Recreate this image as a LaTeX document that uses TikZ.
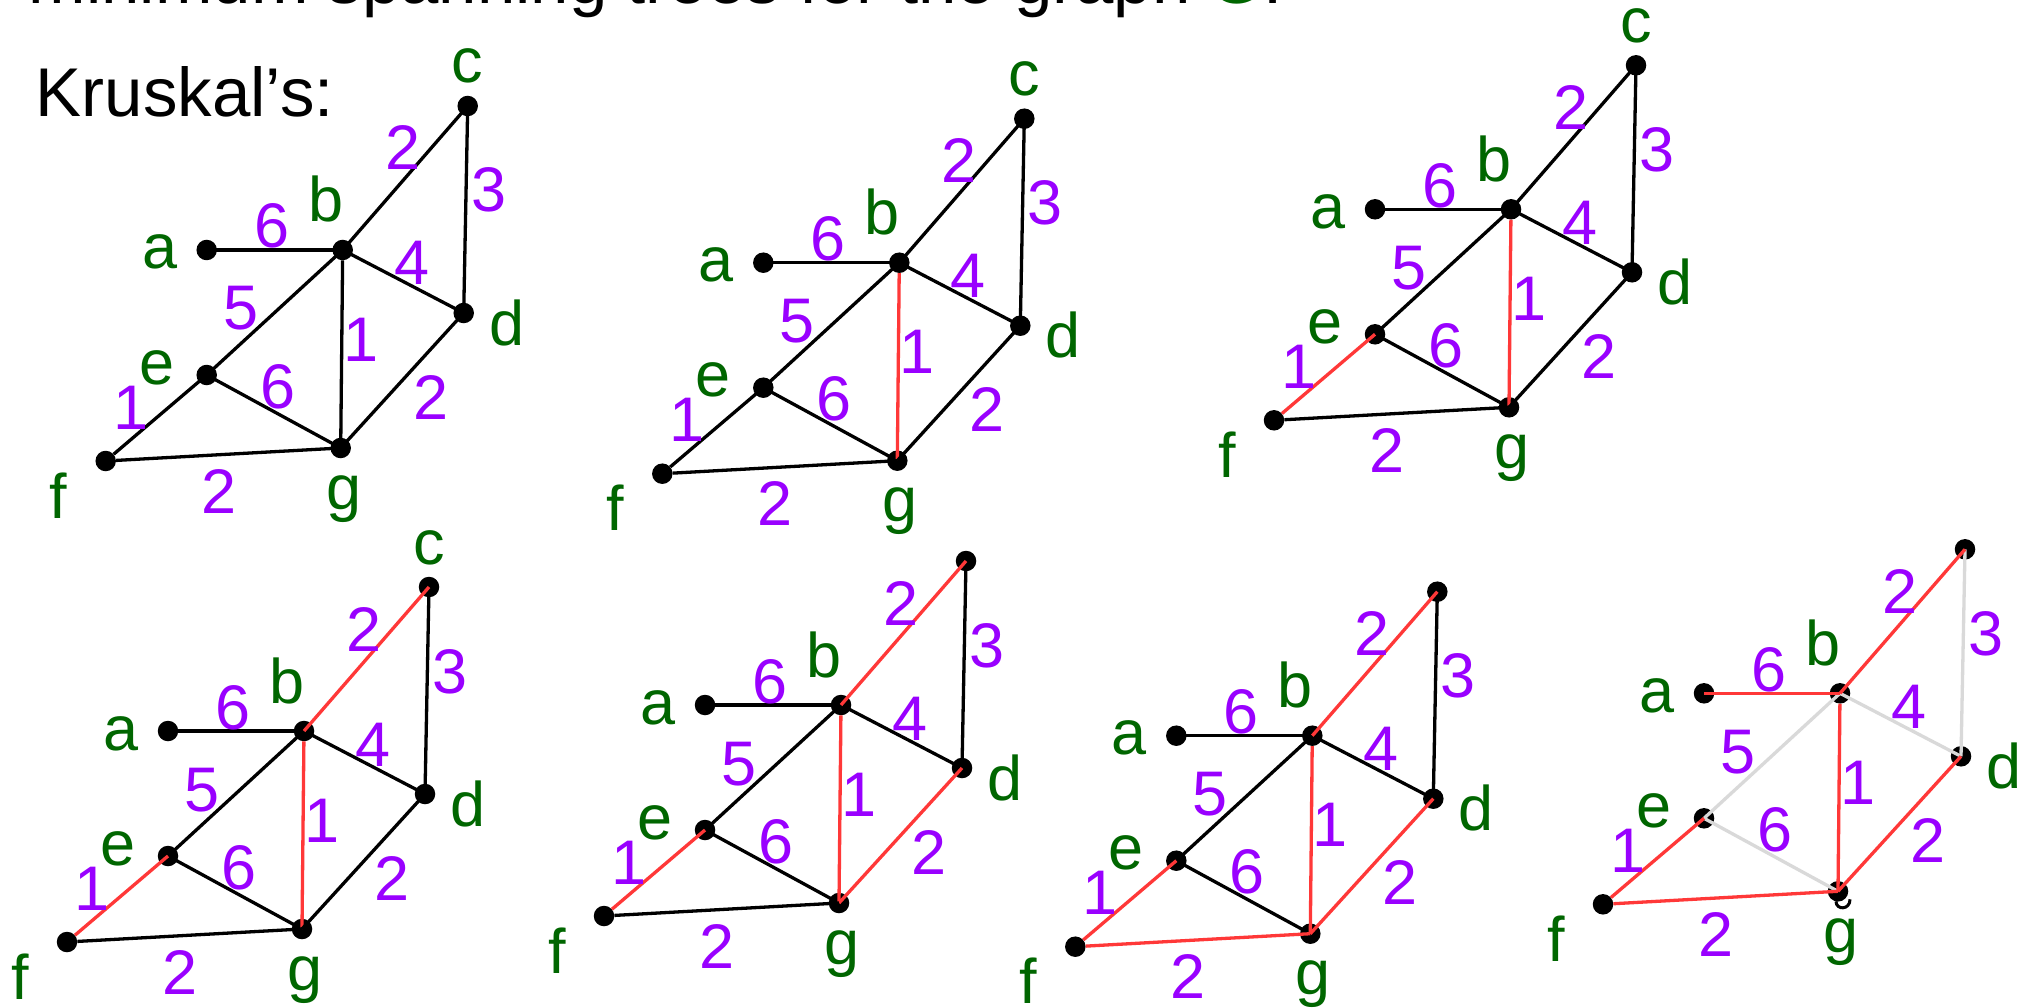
\documentclass[tikz,border=0pt]{standalone}
\usepackage{fontspec}
\setmainfont{Liberation Sans}
\usetikzlibrary{calc}
\definecolor{lblgreen}{RGB}{0,102,0}
\definecolor{wpurple}{RGB}{153,0,255}
\definecolor{tred}{RGB}{255,56,56}
\definecolor{lgray}{RGB}{217,217,217}
\tikzset{
  dot/.style={circle,fill=black,inner sep=0pt,minimum size=20.5pt},
  vlabel/.style={text=lblgreen,font=\fontsize{63}{63}\selectfont,inner sep=0pt,anchor=base},
  wlabel/.style={text=wpurple,font=\fontsize{63}{63}\selectfont,inner sep=0pt,anchor=base},
  bigtext/.style={font=\fontsize{69}{69}\selectfont,inner sep=0pt,anchor=base west},
  blackedge/.style={draw=black,line width=3.3pt},
  rededge/.style={draw=tred,line width=3.3pt},
  grayedge/.style={draw=lgray,line width=3.3pt},
  eab/.style={blackedge}, ebc/.style={blackedge}, ecd/.style={blackedge},
  ebd/.style={blackedge}, ebe/.style={blackedge}, ebg/.style={blackedge},
  eeg/.style={blackedge}, eef/.style={blackedge}, edg/.style={blackedge},
  efg/.style={blackedge}
}
\newcommand\kgraph[4]{%
\begin{scope}[shift={#2},#3]
  \node[dot] (#1a) at (-136,0) {};
  \node[dot] (#1b) at (0,0) {};
  \node[dot] (#1c) at (125,-144) {};
  \node[dot] (#1d) at (121,63) {};
  \node[dot] (#1e) at (-136,125) {};
  \node[dot] (#1f) at (-237,211) {};
  \node[dot] (#1g) at (-2,198) {};
  \draw[ebe] (#1b.center) -- (#1e.center);
  \draw[ebd] (#1b.center) -- (#1d.center);
  \draw[ecd] (#1c.center) -- (#1d.center);
  \draw[eeg] (#1e.center) -- (#1g.center);
  \draw[eab] (#1a.center) -- (#1b.center);
  \draw[ebc] (#1b.center) -- (#1c.center);
  \draw[ebg] (#1b) -- (#1g.center);
  \draw[eef] (#1f) -- (#1e.center);
  \draw[edg] (#1d.center) -- (#1g.center);
  \draw[efg] (#1f) -- (#1g.center);
  \ifnum#4=1 \node[vlabel] (#1lc) at (125,-167) {c};\fi
  \node[vlabel] (#1lb) at (-17,-28) {b};
  \node[vlabel] (#1la) at (-183,19) {a};
  \node[vlabel] (#1ld) at (164,95) {d};
  \node[vlabel] (#1le) at (-186,134) {e};
  \node[vlabel] (#1lf) at (-284,268) {f};
  \node[vlabel] (#1lg) at (1,259) {g};
  \node[wlabel] (#1wab) at (-71,-2) {6};
  \node[wlabel] (#1wbc) at (60,-80) {2};
  \node[wlabel] (#1wcd) at (146,-38) {3};
  \node[wlabel] (#1wbd) at (69,35) {4};
  \node[wlabel] (#1wbe) at (-102,80) {5};
  \node[wlabel] (#1wbg) at (18,111) {1};
  \node[wlabel] (#1weg) at (-65,158) {6};
  \node[wlabel] (#1wef) at (-212,179) {1};
  \node[wlabel] (#1wdg) at (88,169) {2};
  \node[wlabel] (#1wfg) at (-124,263) {2};
\end{scope}}
\begin{document}
\begin{tikzpicture}[x=1pt,y=-1pt]
\useasboundingbox[fill=white] (0,0) rectangle (2021,1008);
\node[bigtext] (title) at (28.5,3.5) {minimum spanning trees for the graph \textcolor{lblgreen}{G}.};
\node[bigtext] (kru) at (35.7,116.7) {Kruskal’s:};
\kgraph{ka}{(342.7,250)}{}{1}
\kgraph{kb}{(899.3,262.7)}{ebg/.style=rededge}{1}
\kgraph{kc}{(1511,209.3)}{ebg/.style=rededge,eef/.style=rededge}{1}
\kgraph{kd}{(304,731)}{ebg/.style=rededge,eef/.style=rededge,ebc/.style=rededge}{1}
\kgraph{ke}{(841,705)}{ebg/.style=rededge,eef/.style=rededge,ebc/.style=rededge,edg/.style=rededge}{0}
\kgraph{kf}{(1312.3,735.7)}{ebg/.style=rededge,eef/.style=rededge,ebc/.style=rededge,edg/.style=rededge,efg/.style=rededge}{0}
\kgraph{kg}{(1840,693.3)}{eab/.style=rededge,ebg/.style=rededge,eef/.style=rededge,ebc/.style=rededge,edg/.style=rededge,efg/.style=rededge,ebe/.style=grayedge,ebd/.style=grayedge,ecd/.style=grayedge,eeg/.style=grayedge}{0}
\draw[line width=3pt] ($(kgg)+(-2,10)$) .. controls ($(kgg)+(-2,19)$) and ($(kgg)+(12,19)$) .. ($(kgg)+(12,8)$);
\end{tikzpicture}
\end{document}
